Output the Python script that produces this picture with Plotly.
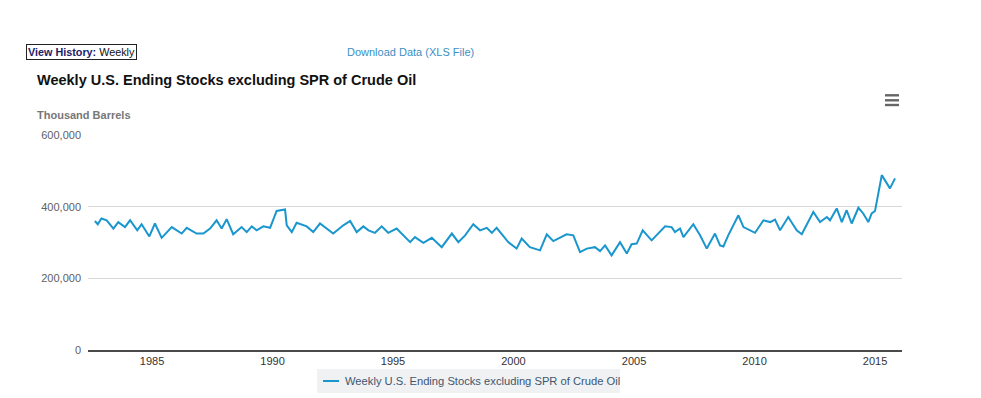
import plotly.graph_objects as go
import pandas as pd

# decimal year positions and values (thousand barrels)
years = [1982.63, 1982.75, 1982.90, 1983.12, 1983.40, 1983.60, 1983.88, 1984.09, 1984.39, 1984.57,
         1984.89, 1985.12, 1985.40, 1985.82, 1986.23, 1986.44, 1986.85, 1987.13, 1987.41, 1987.68,
         1987.89, 1988.10, 1988.37, 1988.72, 1988.93, 1989.14, 1989.34, 1989.62, 1989.90, 1990.17,
         1990.52, 1990.59, 1990.80, 1991.00, 1991.42, 1991.69, 1991.97, 1992.32, 1992.52, 1992.94,
         1993.22, 1993.49, 1993.77, 1993.98, 1994.25, 1994.53, 1994.80, 1995.15, 1995.29, 1995.71,
         1995.91, 1996.26, 1996.61, 1997.02, 1997.44, 1997.71, 1997.99, 1998.33, 1998.61, 1998.89,
         1999.10, 1999.30, 1999.78, 2000.13, 2000.34, 2000.68, 2001.10, 2001.38, 2001.65, 2002.20,
         2002.48, 2002.76, 2003.04, 2003.38, 2003.59, 2003.80, 2004.07, 2004.42, 2004.70, 2004.90,
         2005.11, 2005.36, 2005.73, 2005.94, 2006.29, 2006.56, 2006.70, 2006.91, 2007.05, 2007.46,
         2007.74, 2008.02, 2008.36, 2008.57, 2008.71, 2008.91, 2009.12, 2009.33, 2009.54, 2010.02,
         2010.37, 2010.65, 2010.85, 2011.06, 2011.40, 2011.75, 2011.96, 2012.44, 2012.72, 2013.00,
         2013.13, 2013.41, 2013.62, 2013.82, 2014.03, 2014.31, 2014.51, 2014.72, 2014.86, 2015.00,
         2015.28, 2015.48, 2015.62, 2015.83]
stocks = [360, 351, 367, 362, 339, 357, 343, 362, 334, 351,
          317, 353, 313, 343, 325, 341, 325, 325, 339, 362,
          339, 365, 323, 343, 329, 345, 334, 345, 341, 388,
          392, 348, 329, 355, 345, 329, 353, 334, 325, 348,
          360, 329, 345, 334, 327, 345, 327, 339, 330, 301,
          315, 299, 313, 287, 325, 301, 320, 351, 334, 341,
          327, 341, 301, 283, 311, 287, 278, 323, 304, 323,
          320, 273, 283, 287, 276, 292, 264, 301, 269, 295,
          297, 334, 306, 320, 345, 343, 329, 339, 315, 351,
          320, 283, 325, 292, 289, 320, 348, 376, 343, 327,
          362, 357, 364, 334, 371, 334, 323, 385, 357, 371,
          362, 395, 357, 390, 353, 397, 381, 357, 381, 388,
          488, 465, 451, 479]
stocks = [v * 1000 for v in stocks]

def to_date(y):
    yr = int(y)
    return pd.Timestamp(f"{yr}-01-01") + pd.Timedelta(days=(y - yr) * 365.25)

dates = [to_date(y) for y in years]

series_name = "Weekly U.S. Ending Stocks excluding SPR of Crude Oil"
y_ticks = [0, 200000, 400000, 600000]
x_ticks = ["1985", "1990", "1995", "2000", "2005", "2010", "2015"]

FONT = "Arial, Liberation Sans, sans-serif"
OFF = 8  # browser body margin
W, H = 981 - OFF, 398 - OFF
# plot area in window pixels
PL, PR, PT, PB = 88, 902, 135, 350

def px(x):
    return (x - PL) / (PR - PL)

def py(y):
    return (PB - y) / (PB - PT)

LINE_COLOR = "#1a96ce"

fig = go.Figure()
fig.add_trace(go.Scatter(x=dates, y=stocks, mode="lines", name=series_name,
                         line=dict(color=LINE_COLOR, width=2), showlegend=False))

fig.update_layout(
    width=W, height=H,
    margin=dict(l=PL - OFF, r=W - (PR - OFF), t=PT - OFF, b=H - (PB - OFF)),
    paper_bgcolor="white", plot_bgcolor="white",
    font=dict(family=FONT, size=11, color="#606060"),
    showlegend=False,
    xaxis=dict(type="date", range=[to_date(1982.344), to_date(2016.12)],
               tickvals=[pd.Timestamp(f"{t}-01-01") for t in x_ticks], ticktext=x_ticks,
               showgrid=False, showline=True, linecolor="#4a4a4a", linewidth=1.5,
               ticks="", tickfont=dict(size=11, color="#333333"), zeroline=False),
    yaxis=dict(range=[0, 600000], tickvals=y_ticks, tickformat=",",
               showgrid=True, gridcolor="#d8d8d8", gridwidth=1, zeroline=False,
               showline=False, ticks="", ticklabelstandoff=6,
               tickfont=dict(size=11, color="#606060")),
)

# texts above the chart
fig.add_annotation(text="<b>Weekly U.S. Ending Stocks excluding SPR of Crude Oil</b>",
                   xref="paper", yref="paper", x=px(35), y=py(80), xanchor="left", yanchor="middle",
                   showarrow=False, font=dict(family=FONT, size=14.5, color="#111111"))
fig.add_annotation(text="<b>Thousand Barrels</b>",
                   xref="paper", yref="paper", x=px(35), y=py(115), xanchor="left", yanchor="middle",
                   showarrow=False, font=dict(family=FONT, size=11, color="#777777"))
fig.add_annotation(text="<b><span style='color:#1c1c6b'>View History:</span></b> Weekly",
                   xref="paper", yref="paper", x=px(26), y=py(52), xanchor="left", yanchor="middle",
                   showarrow=False, bordercolor="#222222", borderwidth=1, borderpad=1,
                   font=dict(family=FONT, size=10.8, color="#111111"))
fig.add_annotation(text="Download Data (XLS File)",
                   xref="paper", yref="paper", x=px(410), y=py(52), xanchor="center", yanchor="middle",
                   showarrow=False, font=dict(family=FONT, size=11, color="#3a8fc6"))

# menu icon
for yc in (95.3, 100.3, 105.0):
    fig.add_shape(type="rect", xref="paper", yref="paper",
                  x0=px(885), x1=px(899), y0=py(yc - 1.2), y1=py(yc + 1.2),
                  fillcolor="#666666", line=dict(width=0))

# legend box (Highcharts style)
fig.add_shape(type="rect", xref="paper", yref="paper",
              x0=px(317), x1=px(620), y0=py(393), y1=py(369),
              fillcolor="#f0f1f3", line=dict(width=0), layer="below")
fig.add_shape(type="line", xref="paper", yref="paper",
              x0=px(323), x1=px(339), y0=py(381), y1=py(381),
              line=dict(color=LINE_COLOR, width=2))
fig.add_annotation(text=series_name, xref="paper", yref="paper", x=px(343), y=py(381),
                   xanchor="left", yanchor="middle", showarrow=False,
                   font=dict(family=FONT, size=11.2, color="#3e576f"))

fig.write_html("out.html")
